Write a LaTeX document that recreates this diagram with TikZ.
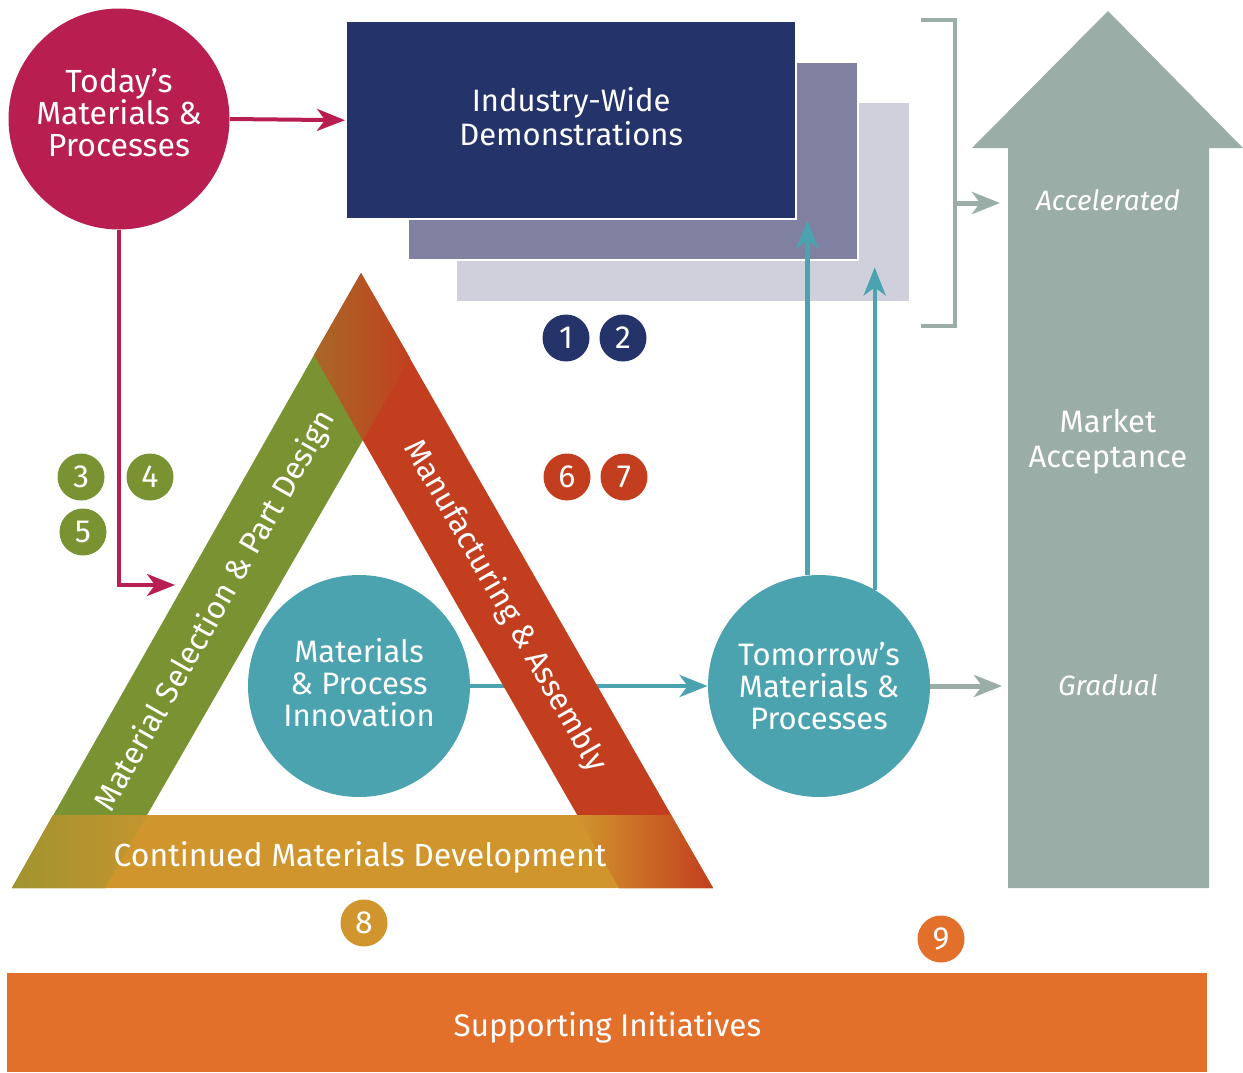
\documentclass[tikz,border=0pt]{standalone}
\usepackage{fontspec}
\setmainfont{Fira Sans}
\usetikzlibrary{arrows.meta, positioning, shapes.geometric}
\usepackage{xcolor}
\definecolor{todayred}{RGB}{184, 30, 80}
\definecolor{demonavy}{RGB}{36, 51, 106}
\definecolor{demomid}{RGB}{128, 128, 160}
\definecolor{demolight}{RGB}{207, 208, 220}
\definecolor{innovteal}{RGB}{75, 163, 176}
\definecolor{marketgray}{RGB}{155, 173, 167}
\definecolor{designgreen}{RGB}{122, 147, 50}
\definecolor{mfgred}{RGB}{195, 62, 30}
\definecolor{devgold}{RGB}{208, 149, 45}
\definecolor{apexbrown}{RGB}{168, 104, 38}
\definecolor{supportorange}{RGB}{226, 112, 43}

\begin{document}
\begin{tikzpicture}[
    x=0.5pt, y=-0.5pt,
    bubble/.style={circle, minimum size=111pt, inner sep=0pt},
    bubbletext/.style={align=center, text=white, inner sep=0pt, font=\fontsize{15.5}{16}\selectfont},
    badge/.style={circle, minimum size=23.5pt, inner sep=0pt, text=white, font=\fontsize{16}{16}\selectfont},
    demobox/.style={rectangle, draw=white, line width=1.2pt, inner sep=0pt, anchor=north west, minimum width=225pt, minimum height=99pt, align=center, text=white, font=\fontsize{15.5}{17}\selectfont},
    bandtext/.style={text=white, inner sep=0pt, font=\fontsize{15.6}{16}\selectfont},
    markettext/.style={text=white, align=center, font=\fontsize{15.5}{17.5}\selectfont},
    arrow/.style={-{Stealth[length=14pt, width=11pt, inset=4pt]}},
    todayarrow/.style={arrow, line width=2pt, color=todayred},
    tealarrow/.style={arrow, line width=2.2pt, color=innovteal},
    grayarrow/.style={arrow, line width=2.5pt, color=marketgray}
]
\useasboundingbox (0,0) rectangle (1243,1072);

% Demonstration stack
\node[demobox, fill=demolight, minimum width=227pt, minimum height=100pt] (democ) at (455,101) {};
\node[demobox, fill=demomid] (demob) at (407,61) {};
\node[demobox, fill=demonavy] (demo) at (345,20) {};
\node[bubbletext, font=\fontsize{15.5}{17}\selectfont] (demotext) at ([yshift=2pt]demo.center) {Industry-Wide\\Demonstrations};

% Market acceptance arrow
\fill[marketgray] (1008,888) -- (1008,148) -- (972,148) -- (1108,11) -- (1243,148) -- (1209,148) -- (1209,888) -- cycle;
\node[markettext, font=\fontsize{14}{16}\selectfont\itshape] (accel) at (1108,200) {Accelerated};
\node[markettext] (market) at (1108,442) {Market\\Acceptance};
\node[markettext, font=\fontsize{14}{16}\selectfont\itshape] (gradual) at (1108,685) {Gradual};

% Bracket
\coordinate (bracketmid) at (955,203);
\coordinate (accelin) at (1000,203);
\draw[marketgray, line width=2.2pt] (921,20) -- (955,20) -- (955,326) -- (921,326);
\draw[grayarrow] (bracketmid) -- (accelin);

% Circles
\node[bubble, fill=todayred, minimum size=110.5pt] (today) at (119,119) {};
\node[bubbletext, font=\fontsize{16}{16}\selectfont] (todaytext) at ([yshift=3pt]today.center) {Today's\\Materials \&\\Processes};
\node[bubble, fill=innovteal] (innov) at (359,686) {};
\node[bubbletext] (innovtext) at ([yshift=1.5pt]innov.center) {Materials\\\& Process\\Innovation};
\node[bubble, fill=innovteal] (tomorrow) at (819,686) {};
\node[bubbletext] (tomorrowtext) at (tomorrow.center) {Tomorrow's\\Materials \&\\Processes};

\draw[tealarrow] (innov.east) -- (tomorrow.west);

% Triangle
\coordinate (apex) at (361,273);
\coordinate (gtop) at (314,355);
\coordinate (rtop) at (410,358);
\coordinate (inapex) at (363,440);
\coordinate (gbot) at (105,888);
\coordinate (rbot) at (619,888);
\fill[designgreen] (12,888) -- (gtop) -- (inapex) -- (gbot) -- cycle;
\fill[mfgred] (apex) -- (713,888) -- (rbot) -- (gtop) -- cycle;
\shade[left color=apexbrown, right color=mfgred!95!apexbrown] (apex) -- (gtop) -- (inapex) -- (rtop) -- cycle;
\fill[devgold] (12,888) -- (53,815) -- (671,815) -- (713,888) -- cycle;
\shade[left color=designgreen!55!devgold, right color=devgold!85!designgreen] (12,888) -- (53,815) -- (147,815) -- (gbot) -- cycle;
\shade[left color=devgold, right color=mfgred] (577,815) -- (671,815) -- (713,888) -- (rbot) -- cycle;

\node[bandtext, rotate=60.4] (design) at (216,611) {Material Selection \& Part Design};
\node[bandtext, rotate=-60.2] (mfg) at (505,606) {Manufacturing \& Assembly};
\node[bandtext, font=\fontsize{16}{16}\selectfont] (develop) at (360,857) {Continued Materials Development};

% Connectors
\coordinate (designin) at (175,585);
\draw[todayarrow] (today.east) -- (demo.west);
\draw[todayarrow] (today.south) |- (designin);
\draw[tealarrow] (tomorrow.96) -- (tomorrow.96 |- demo.south);
\draw[tealarrow, shorten >=3pt] (tomorrow.60) -- (tomorrow.60 |- demob.south);
\coordinate (gradin) at (1002,686);
\draw[grayarrow] (tomorrow.east) -- (gradin);

% Badges
\node[badge, fill=demonavy] (b1) at (566,338) {1};
\node[badge, fill=demonavy] (b2) at (623,338) {2};
\node[badge, fill=designgreen] (b3) at (81,477) {3};
\node[badge, fill=designgreen] (b4) at (150,477) {4};
\node[badge, fill=designgreen] (b5) at (83,532) {5};
\node[badge, fill=mfgred] (b6) at (567,477) {6};
\node[badge, fill=mfgred] (b7) at (624,477) {7};
\node[badge, fill=devgold] (b8) at (364,923) {8};
\node[badge, fill=supportorange] (b9) at (941,939) {9};

% Supporting initiatives
\node[rectangle, fill=supportorange, anchor=north west, minimum width=600pt, minimum height=49.5pt, inner sep=0pt] (support) at (7,973) {};
\node[bubbletext, font=\fontsize{15.7}{16}\selectfont] (supporttext) at ([yshift=-2.5pt]support.center) {Supporting Initiatives};

\end{tikzpicture}
\end{document}
